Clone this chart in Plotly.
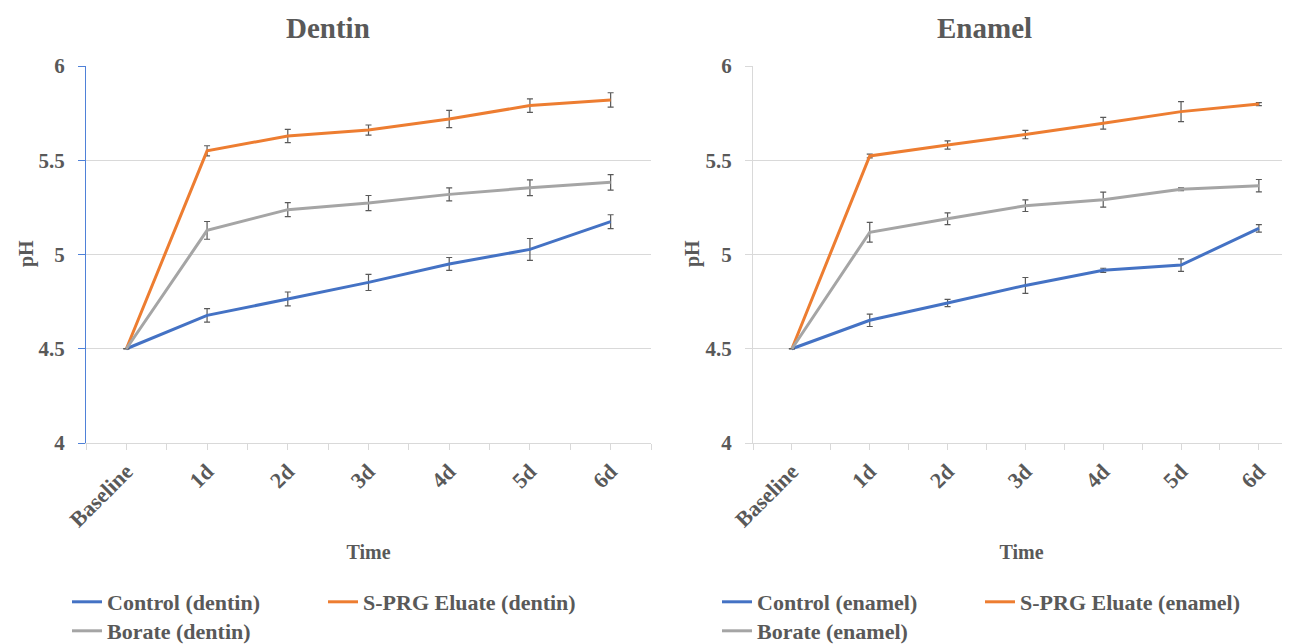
import plotly.graph_objects as go

categories = ["Baseline", "1d", "2d", "3d", "4d", "5d", "6d"]

control_dentin = [4.50, 4.677, 4.764, 4.852, 4.950, 5.027, 5.174]
control_dentin_err = [0, 0.036, 0.037, 0.043, 0.034, 0.058, 0.037]
sprg_dentin = [4.50, 5.550, 5.629, 5.660, 5.719, 5.790, 5.820]
sprg_dentin_err = [0, 0.027, 0.035, 0.027, 0.046, 0.036, 0.038]
borate_dentin = [4.50, 5.128, 5.238, 5.273, 5.319, 5.354, 5.383]
borate_dentin_err = [0, 0.047, 0.037, 0.040, 0.034, 0.042, 0.041]

control_enamel = [4.50, 4.651, 4.743, 4.836, 4.916, 4.944, 5.139]
control_enamel_err = [0, 0.033, 0.019, 0.042, 0.011, 0.033, 0.020]
sprg_enamel = [4.50, 5.523, 5.581, 5.636, 5.696, 5.758, 5.798]
sprg_enamel_err = [0, 0.010, 0.022, 0.022, 0.031, 0.053, 0.008]
borate_enamel = [4.50, 5.118, 5.190, 5.259, 5.291, 5.346, 5.365]
borate_enamel_err = [0, 0.052, 0.031, 0.031, 0.040, 0.007, 0.033]

y_ticks = [4, 4.5, 5, 5.5, 6]

BLUE = "#4472C4"
ORANGE = "#ED7D31"
GRAY = "#A5A5A5"
TXT = "#595959"
GRID = "#D9D9D9"
FONT = "Liberation Serif, Times New Roman, serif"

# page has an 8px body margin; figure sized to fit the 1290x644 window
OFF = 8
W, H = 1290 - OFF, 644 - OFF


def px(x):
    return (x - OFF) / W


def py(y):
    return 1 - (y - OFF) / H


xidx = list(range(len(categories)))

fig = go.Figure()


def add(name, y, err, color, xa, ya, legend):
    fig.add_trace(go.Scatter(
        x=xidx, y=y, name=name, mode="lines",
        line=dict(color=color, width=3),
        error_y=dict(type="data", array=err, visible=True,
                     color="#595959", thickness=1.2, width=3),
        xaxis=xa, yaxis=ya, legend=legend,
    ))


add("Control (dentin)", control_dentin, control_dentin_err, BLUE, "x", "y", "legend")
add("S-PRG Eluate (dentin)", sprg_dentin, sprg_dentin_err, ORANGE, "x", "y", "legend")
add("Borate (dentin)", borate_dentin, borate_dentin_err, GRAY, "x", "y", "legend2")
add("Control (enamel)", control_enamel, control_enamel_err, BLUE, "x2", "y2", "legend3")
add("S-PRG Eluate (enamel)", sprg_enamel, sprg_enamel_err, ORANGE, "x2", "y2", "legend3")
add("Borate (enamel)", borate_enamel, borate_enamel_err, GRAY, "x2", "y2", "legend4")

# tick positions at categories and half-way boundaries
half_vals = [i * 0.5 - 0.5 for i in range(2 * len(categories) + 1)]
half_text = [categories[int(v)] if float(v).is_integer() else "" for v in half_vals]

tickfont = dict(family=FONT, size=22, color=TXT, weight="bold")
ytickfont = dict(family=FONT, size=21, color=TXT, weight="bold")
titlefont = dict(family=FONT, size=20, color=TXT, weight="bold")

xcommon = dict(
    tickmode="array", tickvals=half_vals, ticktext=half_text,
    tickangle=-45, tickfont=tickfont, ticks="outside", ticklen=6,
    tickcolor=GRID, showline=True, linecolor=GRID, linewidth=1,
    showgrid=False, zeroline=False, automargin=False,
    title=dict(text="Time", font=titlefont, standoff=13),
)
ycommon = dict(
    range=[4, 6], tickmode="array", tickvals=y_ticks,
    ticktext=[f"{v:g}" for v in y_ticks],
    tickfont=ytickfont, ticks="outside", ticklen=7, ticklabelstandoff=9,
    showgrid=True, gridcolor=GRID, gridwidth=1, zeroline=False,
    showline=True, linewidth=1, automargin=False,
)

x1_dom = [px(86), px(651)]
x2_dom = [px(753), 1.0]
y_dom = [py(443), py(66)]

fig.update_layout(
    width=W, height=H,
    margin=dict(l=0, r=0, t=0, b=0, autoexpand=False),
    paper_bgcolor="white", plot_bgcolor="white",
    xaxis=dict(domain=x1_dom, range=[-0.5, 6.5], anchor="y", **xcommon),
    yaxis=dict(domain=y_dom, anchor="x", linecolor="#4F81D8", tickcolor="#4F81D8", **ycommon),
    xaxis2=dict(domain=x2_dom, range=[-0.5, 6.4], anchor="y2", **xcommon),
    yaxis2=dict(domain=y_dom, anchor="x2", linecolor=GRID, tickcolor=GRID, **ycommon),
    showlegend=True,
)

legfont = dict(family=FONT, size=22, color=TXT, weight="bold")
common_leg = dict(orientation="h", xanchor="left", yanchor="middle",
                  font=legfont, bgcolor="rgba(0,0,0,0)", itemwidth=30,
                  entrywidth=211, entrywidthmode="pixels", tracegroupgap=0)
fig.update_layout(
    legend=dict(x=px(67), y=py(602), **common_leg),
    legend2=dict(x=px(67), y=py(631), **common_leg),
    legend3=dict(x=px(717), y=py(602), **{**common_leg, "entrywidth": 218}),
    legend4=dict(x=px(717), y=py(631), **common_leg),
)

for t, xc in [("Dentin", 328), ("Enamel", 985)]:
    fig.add_annotation(text=t, x=px(xc), y=py(28), xref="paper", yref="paper",
                       showarrow=False, xanchor="center", yanchor="middle",
                       font=dict(family=FONT, size=29, color=TXT, weight="bold"))

# y-axis titles
for xc in [26, 692]:
    fig.add_annotation(text="pH", x=px(xc), y=py(254), xref="paper", yref="paper",
                       showarrow=False, xanchor="center", yanchor="middle", textangle=-90,
                       font=titlefont)

fig.write_html("out.html")
